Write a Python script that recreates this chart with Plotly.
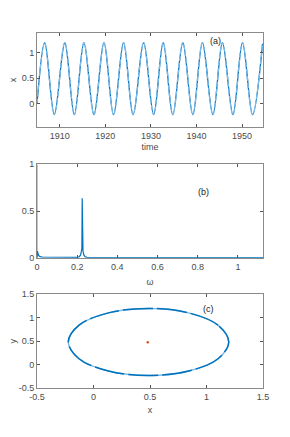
import plotly.graph_objects as go

# ---- panel (a): time series (extrema) ----
t_pts = [1905.0, 1906.7, 1908.8, 1911.1, 1913.2, 1915.3, 1917.5, 1919.7, 1921.8,
         1924.0, 1926.1, 1928.4, 1930.6, 1932.7, 1934.8, 1937.0, 1939.2, 1941.3,
         1943.6, 1945.7, 1948.0, 1950.1, 1952.3, 1954.5]
x_pts = [0.0, 1.19, -0.21, 1.19, -0.21, 1.19, -0.21, 1.19, -0.21,
         1.19, -0.21, 1.19, -0.21, 1.19, -0.21, 1.19, -0.21, 1.19,
         -0.21, 1.19, -0.21, 1.19, -0.21, 1.17]

# ---- panel (b): spectrum ----
w_pts = [0.0, 0.002, 0.004, 0.008, 0.015, 0.03, 0.1, 0.2, 0.21, 0.217, 0.221,
         0.2235, 0.225, 0.2265, 0.229, 0.233, 0.24, 0.25, 0.35, 0.6, 1.125]
s_pts = [0.0, 0.07, 0.05, 0.025, 0.012, 0.005, 0.003, 0.004, 0.008, 0.03, 0.07,
         0.1, 0.636, 0.1, 0.07, 0.03, 0.008, 0.004, 0.003, 0.002, 0.002]
dc_w = [0.0, 0.0]
dc_s = [0.0, 1.0]

# ---- panel (c): phase portrait (points read around the orbit) ----
ex = [1.197, 1.102, 0.842, 0.487, 0.132, -0.128, -0.223, -0.128, 0.132, 0.487, 0.842, 1.102, 1.197]
ey = [0.486, 0.843, 1.105, 1.200, 1.105, 0.843, 0.486, 0.129, -0.133, -0.228, -0.133, 0.129, 0.486]
fp_x = [0.48]
fp_y = [0.48]

ticks_a_x = [1910, 1920, 1930, 1940, 1950]
ticks_a_y = [0, 0.5, 1]
ticks_b_x = [0, 0.2, 0.4, 0.6, 0.8, 1]
ticks_b_y = [0, 0.5, 1]
ticks_c = [-0.5, 0, 0.5, 1, 1.5]
ticks_c_txt = ["-0.5", "0", "0.5", "1", "1.5"]

DARK = "#0072BD"
LIGHT = "#7DBBE6"
RED = "#D95319"

fig = go.Figure()
# (a)
fig.add_trace(go.Scatter(x=t_pts, y=x_pts, mode="lines", line=dict(color=DARK, width=1.3, shape="spline", smoothing=1.0),
                         xaxis="x", yaxis="y", showlegend=False, hoverinfo="skip"))
fig.add_trace(go.Scatter(x=t_pts, y=x_pts, mode="lines", line=dict(color=LIGHT, width=1.3, shape="spline", smoothing=1.0, dash="5px,2px"),
                         xaxis="x", yaxis="y", showlegend=False, hoverinfo="skip"))
# (b)
fig.add_trace(go.Scatter(x=dc_w, y=dc_s, mode="lines", line=dict(color=LIGHT, width=1.5),
                         xaxis="x2", yaxis="y2", showlegend=False, hoverinfo="skip"))
fig.add_trace(go.Scatter(x=w_pts, y=s_pts, mode="lines", line=dict(color=DARK, width=1.2),
                         xaxis="x2", yaxis="y2", showlegend=False, hoverinfo="skip"))
# (c)
fig.add_trace(go.Scatter(x=ex, y=ey, mode="lines", line=dict(color=LIGHT, width=1.5, shape="spline", smoothing=1.0),
                         xaxis="x3", yaxis="y3", showlegend=False, hoverinfo="skip"))
fig.add_trace(go.Scatter(x=ex, y=ey, mode="lines", line=dict(color=DARK, width=1.5, shape="spline", smoothing=1.0, dash="30px,4px"),
                         xaxis="x3", yaxis="y3", showlegend=False, hoverinfo="skip"))
fig.add_trace(go.Scatter(x=fp_x, y=fp_y, mode="markers", marker=dict(color=RED, size=2.5),
                         xaxis="x3", yaxis="y3", showlegend=False, hoverinfo="skip"))

# page has an 8px body margin: size the figure so it fits and offset positions
OFF = 8.0
W = 282.0
H = 421.0
xd = [(37 - OFF) / W, (263 - OFF) / W]
def yd(top, bot):
    return [1 - (bot - OFF) / H, 1 - (top - OFF) / H]

FONT = "Liberation Sans, Arial, sans-serif"
tickfont = dict(family=FONT, size=9, color="#4a4a4a")
common = dict(showline=True, mirror="ticks", linecolor="#8a8a8a", linewidth=1, ticks="inside",
              ticklen=3, tickcolor="#555555", showgrid=False, zeroline=False, tickfont=tickfont,
              automargin=False)
titlefont = dict(family=FONT, size=9, color="#4a4a4a")

fig.update_layout(
    width=int(W), height=int(H), margin=dict(l=0, r=0, t=0, b=0),
    paper_bgcolor="white", plot_bgcolor="white",
    xaxis=dict(domain=xd, anchor="y", range=[1905, 1954.6], tickvals=ticks_a_x,
               title=dict(text="time", font=titlefont, standoff=3), **common),
    yaxis=dict(domain=yd(33, 127), anchor="x", range=[-0.45, 1.38], tickvals=ticks_a_y,
               title=dict(text="x", font=titlefont, standoff=3), **common),
    xaxis2=dict(domain=xd, anchor="y2", range=[0, 1.125], tickvals=ticks_b_x,
                title=dict(text="ω", font=titlefont, standoff=8), **common),
    yaxis2=dict(domain=yd(164.3, 257.7), anchor="x2", range=[0, 1], tickvals=ticks_b_y, **common),
    xaxis3=dict(domain=xd, anchor="y3", range=[-0.5, 1.5], tickvals=ticks_c, ticktext=ticks_c_txt,
                title=dict(text="x", font=titlefont, standoff=5), **common),
    yaxis3=dict(domain=yd(294.3, 388.3), anchor="x3", range=[-0.5, 1.5], tickvals=ticks_c, ticktext=ticks_c_txt,
                title=dict(text="y", font=titlefont, standoff=3), **common),
    annotations=[
        dict(text="(a)", x=1944.2, y=1.22, xref="x", yref="y", showarrow=False, font=dict(family=FONT, size=9, color="#222")),
        dict(text="(b)", x=0.83, y=0.70, xref="x2", yref="y2", showarrow=False, font=dict(family=FONT, size=9, color="#222")),
        dict(text="(c)", x=1.02, y=1.19, xref="x3", yref="y3", showarrow=False, font=dict(family=FONT, size=9, color="#222")),
    ],
)

fig.write_html("out.html")
